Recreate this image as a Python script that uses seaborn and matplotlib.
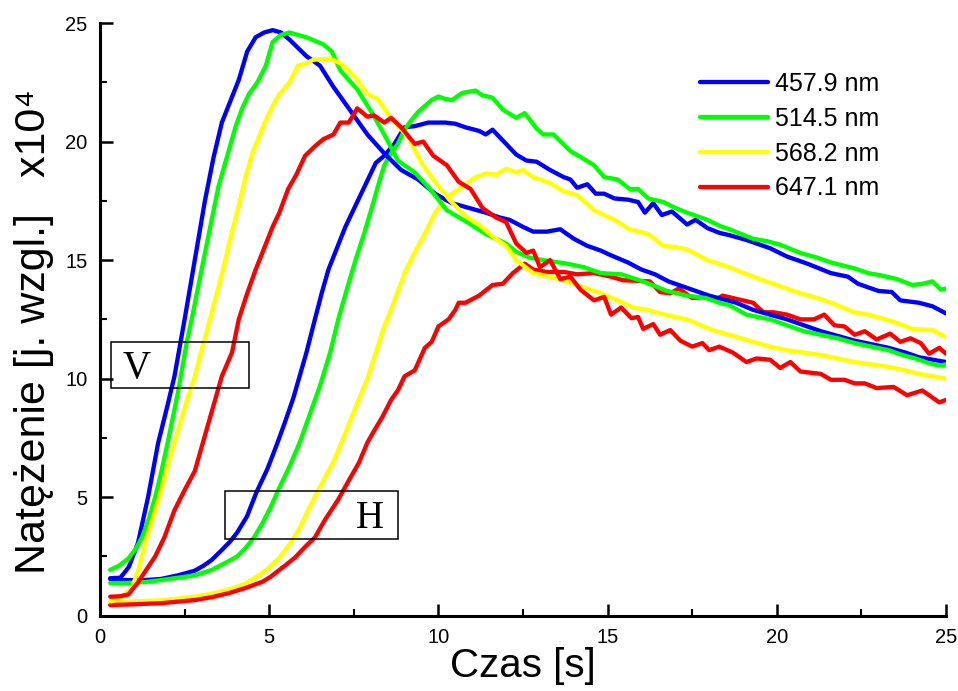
import matplotlib
matplotlib.use("Agg")
import matplotlib.pyplot as plt
import seaborn as sns
import pandas as pd
from matplotlib.patches import Rectangle
from matplotlib.lines import Line2D
from matplotlib.ticker import MultipleLocator

sns.set_style("ticks", {"axes.edgecolor": "black", "text.color": "black",
                        "axes.labelcolor": "black", "xtick.color": "black",
                        "ytick.color": "black"})
plt.rcParams["font.family"] = ["Liberation Sans", "DejaVu Sans"]

# ---------------- data (time [s], intensity [x10^4]) ----------------
wavelengths = ["457.9 nm", "514.5 nm", "568.2 nm", "647.1 nm"]
colors = ["#0000FF", "#00FF00", "#FFFF00", "#FF0000"]

V_457 = [(0.3,1.58),(0.6,1.6),(0.85,2.05),(1.12,3.06),(1.42,5.0),(1.72,7.3),(2.0,8.9),(2.2,10.1),
         (2.5,12.5),(2.8,15.0),(3.1,17.5),(3.35,19.3),(3.6,20.8),(3.85,21.7),(4.1,22.6),(4.35,23.8),
         (4.6,24.4),(4.85,24.6),(5.1,24.7),(5.35,24.6),(5.6,24.3),(6.1,23.6),(6.5,23.2),(6.9,22.3),
         (7.4,21.3),(7.9,20.3),(8.4,19.5),(8.9,18.8),(9.4,18.4),(9.9,17.8),(10.4,17.4),(10.9,17.2),
         (11.4,17.0),(11.8,16.8),(12.1,16.7),(12.5,16.4),(12.8,16.2),(13.2,16.2),(13.6,16.3),(14.0,15.9),
         (14.4,15.6),(14.8,15.4),(15.1,15.2),(15.6,14.9),(16.0,14.6),(16.4,14.4),(16.8,14.1),(17.2,13.9),
         (17.6,13.7),(18.0,13.5),(18.4,13.35),(18.8,13.2),(19.3,12.9),(19.8,12.7),(20.3,12.5),(20.8,12.25),
         (21.3,12.0),(21.8,11.8),(22.3,11.6),(22.8,11.45),(23.3,11.3),(23.8,11.1),(24.2,10.9),(24.6,10.8),
         (25.0,10.7)]
V_514 = [(0.3,1.93),(0.55,2.1),(0.83,2.4),(1.05,2.8),(1.24,3.3),(1.45,4.1),(1.63,5.0),(1.8,6.0),
         (2.0,7.3),(2.3,9.4),(2.56,11.5),(2.75,12.8),(3.1,15.3),(3.5,18.1),(4.0,20.6),(4.2,21.4),
         (4.4,22.0),(4.65,22.5),(4.9,23.2),(5.1,24.2),(5.35,24.5),(5.6,24.6),(6.1,24.4),(6.6,24.1),
         (6.85,23.8),(7.1,23.0),(7.6,22.2),(8.0,21.3),(8.4,20.3),(8.8,19.2),(9.3,18.7),(9.75,18.0),
         (10.25,17.1),(10.85,16.6),(11.4,16.1),(12.0,15.7),(12.3,15.35),(12.7,15.1),(13.1,15.0),(13.8,14.85),
         (14.3,14.7),(14.8,14.45),(15.4,14.4),(16.05,14.1),(16.75,13.7),(17.35,13.5),(17.9,13.4),(18.3,13.2),
         (18.6,13.1),(19.1,12.7),(19.8,12.5),(20.3,12.25),(20.8,12.0),(21.3,11.85),(21.8,11.7),(22.3,11.5),
         (22.8,11.35),(23.3,11.2),(23.7,11.0),(24.1,10.85),(24.5,10.65),(24.8,10.55),(25.0,10.6)]
V_568 = [(0.3,0.6),(0.6,0.75),(0.95,1.2),(1.15,2.0),(1.33,3.05),(1.6,4.3),(1.83,5.4),(2.05,6.6),
         (2.3,7.8),(2.55,9.0),(2.8,10.1),(3.0,11.2),(3.25,12.5),(3.6,14.4),(3.85,15.9),(4.1,17.3),
         (4.3,18.5),(4.5,19.5),(4.7,20.2),(4.9,20.9),(5.1,21.5),(5.3,22.0),(5.6,22.5),(5.85,23.2),
         (6.1,23.3),(6.3,23.45),(6.8,23.5),(7.1,23.3),(7.35,23.0),(7.6,22.6),(7.9,22.0),(8.2,21.8),
         (8.6,21.0),(9.1,20.2),(9.5,19.1),(9.85,18.4),(10.35,17.5),(10.85,16.8),(11.2,16.5),(11.6,16.0),
         (12.0,15.6),(12.3,15.0),(12.8,14.45),(13.3,14.3),(13.8,14.1),(14.3,13.85),(14.8,13.6),(15.3,13.3),
         (15.75,13.0),(16.2,12.9),(16.55,12.75),(17.0,12.6),(17.35,12.5),(18.1,12.05),(18.6,11.85),
         (19.3,11.55),(19.8,11.35),(20.3,11.2),(20.8,11.1),(21.3,11.0),(21.8,10.85),(22.3,10.7),
         (22.8,10.6),(23.3,10.5),(23.8,10.35),(24.2,10.2),(24.6,10.1),(25.0,10.0)]
V_647 = [(0.3,0.8),(0.6,0.82),(0.84,0.9),(1.12,1.4),(1.35,1.9),(1.63,2.5),(1.9,3.3),(2.2,4.45),
         (2.5,5.3),(2.8,6.1),(3.0,7.1),(3.2,8.1),(3.4,9.1),(3.6,10.1),(3.9,11.1),(4.1,12.5),(4.35,13.6),
         (4.6,14.6),(4.85,15.5),(5.1,16.4),(5.3,17.0),(5.56,18.0),(5.8,18.6),(6.06,19.4),(6.35,19.8),
         (6.6,20.1),(6.9,20.3),(7.1,20.8),(7.35,20.8),(7.6,21.4),(7.9,21.05),(8.1,21.1),(8.4,20.8),
         (8.6,21.0),(8.9,20.6),(9.3,19.9),(9.55,20.0),(9.85,19.4),(10.25,19.0),(10.6,18.3),(10.95,18.0),
         (11.3,17.2),(11.7,16.8),(12.0,16.6),(12.3,15.7),(12.6,15.3),(12.8,15.4),(13.0,14.7),(13.3,15.0),
         (13.6,14.2),(13.9,14.3),(14.2,13.75),(14.6,13.3),(14.9,13.45),(15.1,12.7),(15.4,13.0),(15.7,12.55),
         (15.9,12.6),(16.05,12.1),(16.35,12.3),(16.55,11.85),(16.85,12.05),(17.15,11.6),(17.5,11.35),
         (17.8,11.5),(18.0,11.2),(18.3,11.35),(18.7,11.1),(19.1,10.7),(19.4,10.85),(19.8,10.8),(20.1,10.45),
         (20.4,10.7),(20.7,10.3),(21.3,10.2),(21.6,9.95),(22.0,9.95),(22.3,9.8),(22.6,9.8),(22.95,9.6),
         (23.45,9.65),(23.85,9.3),(24.3,9.5),(24.8,9.0),(25.0,9.1)]

H_457 = [(0.3,1.55),(0.8,1.5),(1.33,1.5),(1.8,1.55),(2.3,1.7),(2.8,1.9),(3.05,2.1),(3.3,2.35),
         (3.55,2.7),(3.84,3.12),(4.05,3.5),(4.34,4.18),(4.63,5.23),(4.95,6.2),(5.22,7.2),(5.45,8.1),
         (5.71,9.17),(6.1,11.1),(6.35,12.5),(6.55,13.6),(6.75,14.6),(7.0,15.5),(7.25,16.4),(7.55,17.3),
         (7.85,18.2),(8.15,19.1),(8.4,19.4),(8.7,19.9),(9.0,20.6),(9.3,20.65),(9.7,20.8),(10.2,20.8),
         (10.5,20.75),(10.8,20.6),(11.2,20.45),(11.4,20.3),(11.6,20.5),(12.0,19.9),(12.3,19.45),(12.6,19.2),
         (12.9,19.15),(13.3,18.8),(13.7,18.5),(13.9,18.4),(14.1,18.05),(14.4,18.2),(14.65,17.8),(14.9,17.8),
         (15.2,17.6),(15.6,17.55),(15.9,17.45),(16.1,17.0),(16.35,17.4),(16.6,16.9),(16.9,17.05),
         (17.35,16.5),(17.6,16.7),(17.95,16.35),(18.3,16.15),(18.6,16.05),(19.1,15.85),(19.8,15.5),
         (20.3,15.15),(20.9,14.85),(21.6,14.45),(22.1,14.3),(22.4,14.0),(23.0,13.7),(23.4,13.65),
         (23.65,13.3),(24.2,13.2),(24.6,13.05),(25.0,12.75)]
H_514 = [(0.3,1.38),(0.8,1.38),(1.33,1.42),(1.8,1.5),(2.3,1.6),(2.8,1.7),(3.3,1.93),(3.8,2.3),
         (4.05,2.5),(4.3,2.85),(4.55,3.3),(4.8,3.9),(5.05,4.6),(5.3,5.4),(5.6,6.3),(5.9,7.3),(6.2,8.5),
         (6.5,9.7),(6.8,11.1),(7.04,12.5),(7.3,13.8),(7.55,15.0),(7.8,16.1),(8.05,17.3),(8.25,18.3),
         (8.4,19.0),(8.6,19.5),(8.8,19.9),(9.0,20.5),(9.2,20.9),(9.4,21.25),(9.6,21.5),(9.8,21.75),
         (10.0,21.9),(10.2,21.8),(10.4,21.75),(10.7,22.05),(11.1,22.15),(11.3,21.95),(11.6,21.85),
         (11.9,21.35),(12.3,21.0),(12.55,21.2),(12.9,20.55),(13.1,20.3),(13.4,20.3),(13.9,19.6),
         (14.2,19.35),(14.6,19.0),(14.9,18.5),(15.3,18.4),(15.65,18.0),(15.9,18.0),(16.2,17.6),
         (16.65,17.45),(17.0,17.2),(17.35,17.0),(17.95,16.7),(18.3,16.45),(18.6,16.3),(19.3,15.9),
         (19.7,15.8),(20.1,15.65),(20.7,15.3),(21.2,15.1),(21.6,14.9),(22.3,14.65),(22.7,14.45),
         (23.1,14.35),(23.55,14.2),(24.0,13.95),(24.3,14.0),(24.6,14.1),(24.85,13.75),(25.0,13.8)]
H_568 = [(0.3,0.58),(1.0,0.6),(1.83,0.65),(2.8,0.8),(3.3,0.93),(3.8,1.1),(4.3,1.35),(4.8,1.8),
         (5.05,2.1),(5.3,2.45),(5.6,3.0),(5.9,3.7),(6.15,4.45),(6.45,5.3),(6.9,6.5),(7.25,7.7),(7.5,8.6),
         (7.9,10.0),(8.15,11.1),(8.4,12.2),(8.6,12.9),(9.0,14.45),(9.25,15.2),(9.5,15.85),(9.7,16.4),
         (9.9,17.0),(10.3,17.7),(10.7,18.1),(11.1,18.5),(11.4,18.65),(11.7,18.6),(12.0,18.85),(12.3,18.7),
         (12.5,18.8),(12.8,18.5),(13.3,18.25),(13.7,17.9),(14.1,17.75),(14.6,17.1),(15.2,16.7),
         (15.65,16.3),(16.2,16.1),(16.65,15.6),(17.0,15.55),(17.35,15.45),(17.95,15.0),(18.6,14.7),
         (19.3,14.3),(20.1,13.9),(20.7,13.6),(21.2,13.4),(21.6,13.2),(22.3,12.8),(22.7,12.7),
         (23.1,12.55),(23.55,12.35),(24.0,12.1),(24.6,12.05),(25.0,11.75)]
H_647 = [(0.3,0.45),(1.0,0.48),(1.83,0.53),(2.8,0.66),(3.3,0.78),(3.8,0.95),(4.3,1.17),(4.8,1.43),
         (5.05,1.65),(5.3,1.93),(5.5,2.15),(5.76,2.45),(6.06,2.9),(6.35,3.3),(6.65,4.05),(7.04,4.9),
         (7.35,5.7),(7.65,6.45),(7.9,7.3),(8.1,7.8),(8.35,8.4),(8.6,9.1),(8.8,9.5),(9.0,10.1),(9.3,10.35),
         (9.6,11.3),(9.8,11.55),(10.0,12.2),(10.3,12.5),(10.5,12.9),(10.6,13.2),(10.8,13.2),(11.2,13.5),
         (11.6,13.95),(11.9,14.0),(12.2,14.45),(12.55,14.85),(12.8,14.6),(13.2,14.5),(13.7,14.5),
         (14.1,14.4),(14.6,14.45),(15.1,14.3),(15.45,14.15),(16.25,14.1),(16.55,13.65),(16.85,13.6),
         (17.1,13.8),(17.5,13.4),(17.95,13.45),(18.2,13.35),(18.4,13.5),(18.7,13.4),(19.3,13.2),
         (19.6,12.8),(19.9,12.8),(20.3,12.7),(20.7,12.5),(21.1,12.5),(21.4,12.7),(21.7,12.25),(22.0,12.2),
         (22.3,11.85),(22.6,12.0),(22.95,11.65),(23.35,11.9),(23.65,11.55),(23.95,11.7),(24.25,11.5),
         (24.5,11.05),(24.8,11.3),(25.0,11.05)]

series = {("V", wavelengths[0]): V_457, ("V", wavelengths[1]): V_514,
          ("V", wavelengths[2]): V_568, ("V", wavelengths[3]): V_647,
          ("H", wavelengths[0]): H_457, ("H", wavelengths[1]): H_514,
          ("H", wavelengths[2]): H_568, ("H", wavelengths[3]): H_647}

rows = []
for (pol, wl), pts in series.items():
    for t, v in pts:
        rows.append({"pol": pol, "wl": wl, "t": t, "v": v})
df = pd.DataFrame(rows)

# ---------------- figure ----------------
fig = plt.figure(figsize=(9.58, 6.91), dpi=100)
ax = fig.add_axes([0.1044, 0.109, 0.8831, 0.8577])

palette = dict(zip(wavelengths, colors))
for pol in ["H", "V"]:
    for wl in wavelengths:
        sub = df[(df.pol == pol) & (df.wl == wl)]
        sns.lineplot(data=sub, x="t", y="v", color=palette[wl], lw=3.1,
                     estimator=None, sort=False, ax=ax, legend=False)

ax.set_xlim(0, 25)
ax.set_ylim(0, 25)
ax.xaxis.set_major_locator(MultipleLocator(5))
ax.yaxis.set_major_locator(MultipleLocator(5))
ax.xaxis.set_minor_locator(MultipleLocator(2.5))
ax.yaxis.set_minor_locator(MultipleLocator(2.5))
for s in ["top", "right"]:
    ax.spines[s].set_visible(False)
for s in ["left", "bottom"]:
    ax.spines[s].set_linewidth(2.2)
    ax.spines[s].set_color("black")
ax.tick_params(which="major", direction="in", length=9, width=1.8, labelsize=14.5, colors="black")
ax.tick_params(axis="x", which="major", pad=9)
ax.tick_params(axis="y", which="major", pad=9)
ax.tick_params(which="minor", direction="in", length=5, width=1.5, colors="black")

ax.set_xlabel("Czas [s]", fontsize=29, labelpad=0, color="black")
ax.set_ylabel("Natężenie [j. wzgl.]   x10⁴", fontsize=31, color="black")
ax.yaxis.set_label_coords(-0.054, 0.479)

# polarization boxes
ax.add_patch(Rectangle((0.325, 9.59), 4.085, 1.96, fill=False, lw=1.1, ec="black", zorder=5))
ax.add_patch(Rectangle((3.695, 3.24), 5.105, 2.03, fill=False, lw=1.1, ec="black", zorder=5))
ax.text(1.09, 10.02, "V", fontsize=28, family="Liberation Serif", ha="center", va="baseline",
        color="black")
ax.text(7.96, 3.69, "H", fontsize=28, family="Liberation Serif", ha="center", va="baseline",
        color="black")

handles = [Line2D([], [], color=c, lw=3.1) for c in colors]
ax.legend(handles, wavelengths, loc="upper left", bbox_to_anchor=(0.7307, 0.8957),
          bbox_transform=fig.transFigure, frameon=False, fontsize=18,
          handlelength=2.7, handletextpad=0.3, labelspacing=0.43,
          borderpad=0, borderaxespad=0, labelcolor="black")

fig.savefig("out.png", dpi=100)
